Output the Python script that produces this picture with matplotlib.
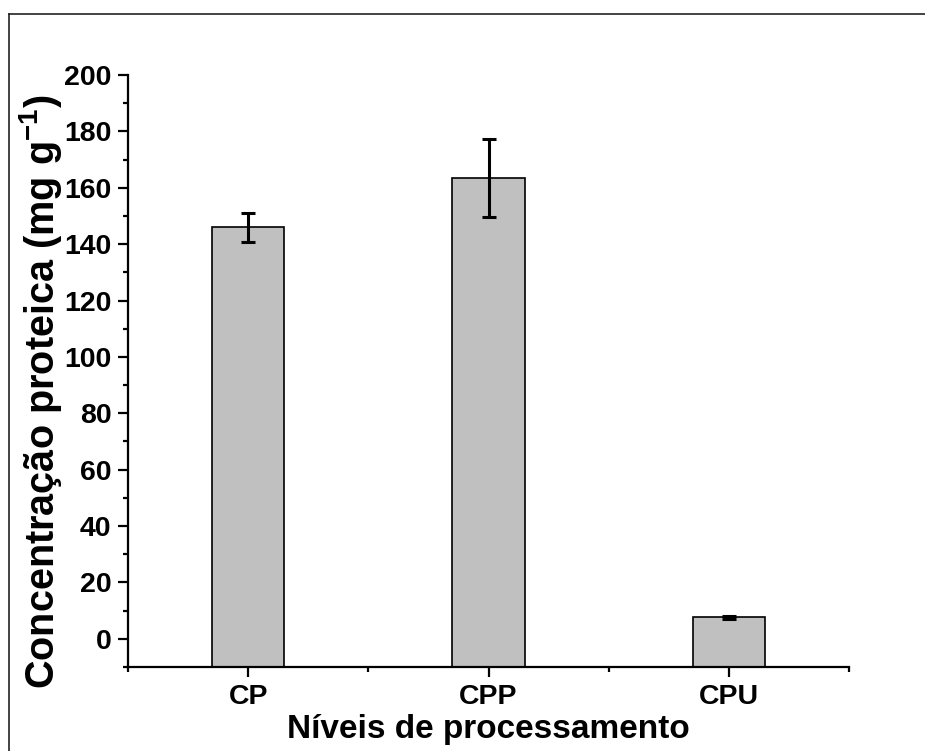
import matplotlib
matplotlib.use("Agg")
import matplotlib.pyplot as plt
from matplotlib.ticker import MultipleLocator, FixedLocator
from matplotlib.lines import Line2D

categories = ["CP", "CPP", "CPU"]
values = [146.0, 163.5, 7.6]
errors = [5.2, 13.7, 0.4]

plt.rcParams['font.family'] = ['Liberation Sans', 'DejaVu Sans']
plt.rcParams['font.weight'] = 'bold'
plt.rcParams['mathtext.fontset'] = 'custom'
plt.rcParams['mathtext.rm'] = 'Liberation Sans:bold'
plt.rcParams['mathtext.bf'] = 'Liberation Sans:bold'
plt.rcParams['mathtext.default'] = 'bf'

fig = plt.figure(figsize=(9.25, 7.51), dpi=100)
ax = fig.add_axes([128/925, 1-667/751, (849-128)/925, (667-75)/751])

ymin, ymax = -10, 200
x = list(range(1, len(categories) + 1))
ax.bar(x, [v - ymin for v in values], bottom=ymin, width=0.3, color='#C0C0C0',
       edgecolor='black', linewidth=1.2, zorder=2)
ax.errorbar(x, values, yerr=errors, fmt='none', ecolor='black', elinewidth=2.2,
            capsize=5, capthick=2.2, zorder=3)

ax.set_xlim(0.5, 3.5)
ax.set_ylim(ymin, ymax)
ax.set_xticks(x)
ax.set_xticklabels(categories)
ax.xaxis.set_minor_locator(FixedLocator([0.5, 1.5, 2.5, 3.5]))
ax.yaxis.set_major_locator(MultipleLocator(20))
ax.yaxis.set_minor_locator(MultipleLocator(10))
ax.set_yticks(list(range(0, 201, 20)))

for s in ['top', 'right']:
    ax.spines[s].set_visible(False)
for s in ['left', 'bottom']:
    ax.spines[s].set_linewidth(1.6)
    ax.spines[s].set_zorder(4)

ax.tick_params(axis='both', which='major', direction='out', length=7, width=1.6,
               labelsize=20.5, pad=5)
ax.tick_params(axis='both', which='minor', direction='out', length=3.6, width=1.6)
for lab in ax.get_xticklabels() + ax.get_yticklabels():
    lab.set_fontweight('bold')

ax.set_xlabel('Níveis de processamento', fontsize=24, fontweight='bold', labelpad=3)
ax.set_ylabel('Concentração proteica (mg g$^{-1}$)', fontsize=28.5, fontweight='bold')
ax.yaxis.set_label_coords(-0.089, 0.465)

# figure border (top and left visible in reference)
fig.add_artist(Line2D([9/925, 9/925], [0, 1-14/751], transform=fig.transFigure,
                      color='#222222', linewidth=1.2))
fig.add_artist(Line2D([9/925, 1], [1-14/751, 1-14/751], transform=fig.transFigure,
                      color='#222222', linewidth=1.2))

fig.savefig('out.png', dpi=100)
